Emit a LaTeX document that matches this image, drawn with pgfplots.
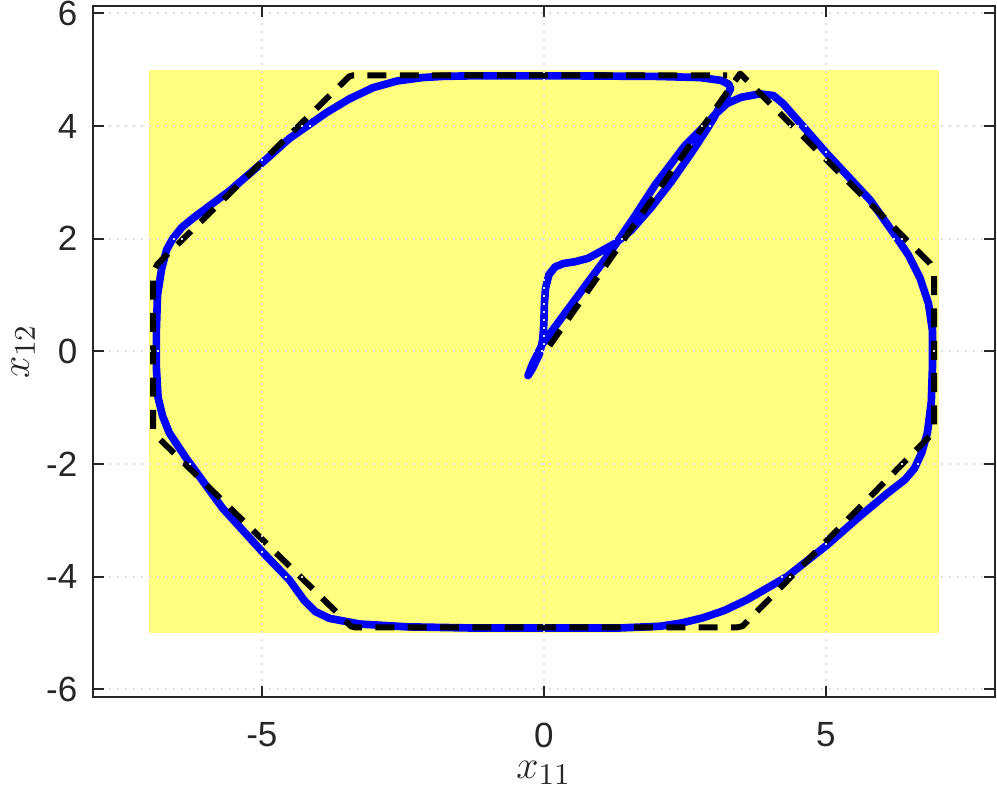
\documentclass[border=0pt]{standalone}
\usepackage[no-math]{fontspec}
\setmainfont{Liberation Sans}
\usepackage{pgfplots}
\pgfplotsset{compat=1.18}
\definecolor{boxyellow}{RGB}{255,255,128}
\definecolor{axgray}{RGB}{38,38,38}
\definecolor{gridgray}{RGB}{222,222,222}
\definecolor{trajblue}{RGB}{0,0,255}
\begin{document}
\begin{tikzpicture}
% canvas of the reference (997x806 px at 0.3pt per px)
\path (-27.8pt,-32.8pt) rectangle (271.3pt,209.0pt);
\begin{axis}[
  scale only axis,
  width=270.7pt, height=207.2pt,
  xmin=-8, xmax=8, ymin=-6.13, ymax=6.13,
  xtick={-5,0,5}, xticklabels={-5,0,5},
  ytick={-6,-4,-2,0,2,4,6}, yticklabels={-6,-4,-2,0,2,4,6},
  tick align=inside, major tick length=3.3pt,
  tick style={axgray, line width=0.6pt},
  axis line style={axgray, line width=0.6pt},
  ticklabel style={font=\fontsize{10.5}{12}\selectfont, text=axgray, inner sep=0pt},
  xticklabel style={yshift=-7.6pt},
  yticklabel style={xshift=-4.4pt},
  grid=major,
  major grid style={gridgray, line width=0.6pt, dash pattern=on 0.6pt off 1.8pt},
  axis on top,
  xlabel={$x_{11}$}, ylabel={$x_{12}$},
  label style={font=\fontsize{12.5}{14}\selectfont, text=axgray, inner sep=0pt},
  xlabel style={at={(axis description cs:0.5,-0.11)}, anchor=center},
  ylabel style={at={(axis description cs:-0.077,0.5)}, anchor=center},
]
% admissible box
\addplot[fill=boxyellow, draw=none] coordinates {(-7,-5) (7,-5) (7,5) (-7,5)} -- cycle;
% closed-loop trajectory
\addplot[trajblue, line width=2.3pt, line join=round, line cap=round] coordinates {
(-0.28,-0.43) (-0.2,-0.3) (-0.08,-0.05) (-0.02,0.2) (0.0,0.5) (0.01,0.85)
(0.03,1.12) (0.09,1.36) (0.2,1.5) (0.35,1.56) (0.55,1.59) (0.78,1.65)
(1.02,1.78) (1.27,1.92) (1.55,2.15) (1.9,2.55) (2.25,3.0) (2.6,3.5)
(2.85,3.88) (3.0,4.12) (3.15,4.4) (3.26,4.56) (3.31,4.66) (3.28,4.74)
(3.14,4.81) (2.77,4.86) (2.0,4.88) (0.5,4.89) (-1.31,4.89) (-1.8,4.88)
(-2.15,4.86) (-2.6,4.8) (-3.03,4.68) (-3.45,4.48) (-3.85,4.24) (-4.51,3.78)
(-4.99,3.35) (-5.57,2.85) (-6.2,2.38) (-6.42,2.2) (-6.58,2.0) (-6.69,1.8)
(-6.78,1.45) (-6.85,1.0) (-6.87,0.4) (-6.87,-0.3) (-6.84,-0.82) (-6.76,-1.15)
(-6.64,-1.45) (-6.34,-1.9) (-5.7,-2.78) (-4.99,-3.56) (-4.51,-4.06) (-4.25,-4.42)
(-4.05,-4.62) (-3.8,-4.74) (-3.27,-4.84) (-2.43,-4.89) (-1.31,-4.91) (1.35,-4.91)
(2.06,-4.88) (2.45,-4.82) (2.82,-4.73) (3.2,-4.6) (3.6,-4.41) (4.31,-4.0)
(5.02,-3.44) (5.6,-2.93) (6.09,-2.52) (6.4,-2.28) (6.57,-2.08) (6.7,-1.8)
(6.8,-1.45) (6.87,-0.9) (6.89,-0.3) (6.89,0.37) (6.82,0.85) (6.67,1.3)
(6.47,1.7) (6.27,2.0) (5.79,2.68) (5.02,3.51) (4.24,4.4) (4.07,4.54)
(3.83,4.57) (3.5,4.51) (3.25,4.4) (3.05,4.22) (2.9,4.05) (2.5,3.65)
(1.97,2.95) (1.6,2.38) (1.15,1.72) (0.6,0.98) (-0.02,0.14) (-0.2,-0.22)
(-0.28,-0.43)
};
% reference trajectory
\addplot[black, line width=1.8pt, dash pattern=on 5.7pt off 4pt, line join=round] coordinates {
(0.1,0.1) (3.48,4.93) (6.85,1.56) (6.92,1.4) (6.92,-1.3) (6.85,-1.5)
(3.52,-4.88) (3.42,-4.9) (-3.35,-4.9) (-3.42,-4.88) (-6.82,-1.55) (-6.93,-1.38)
(-6.93,1.4) (-6.85,1.55) (-3.45,4.88) (-3.38,4.9) (3.25,4.9)
};
\end{axis}
\end{tikzpicture}
\end{document}
